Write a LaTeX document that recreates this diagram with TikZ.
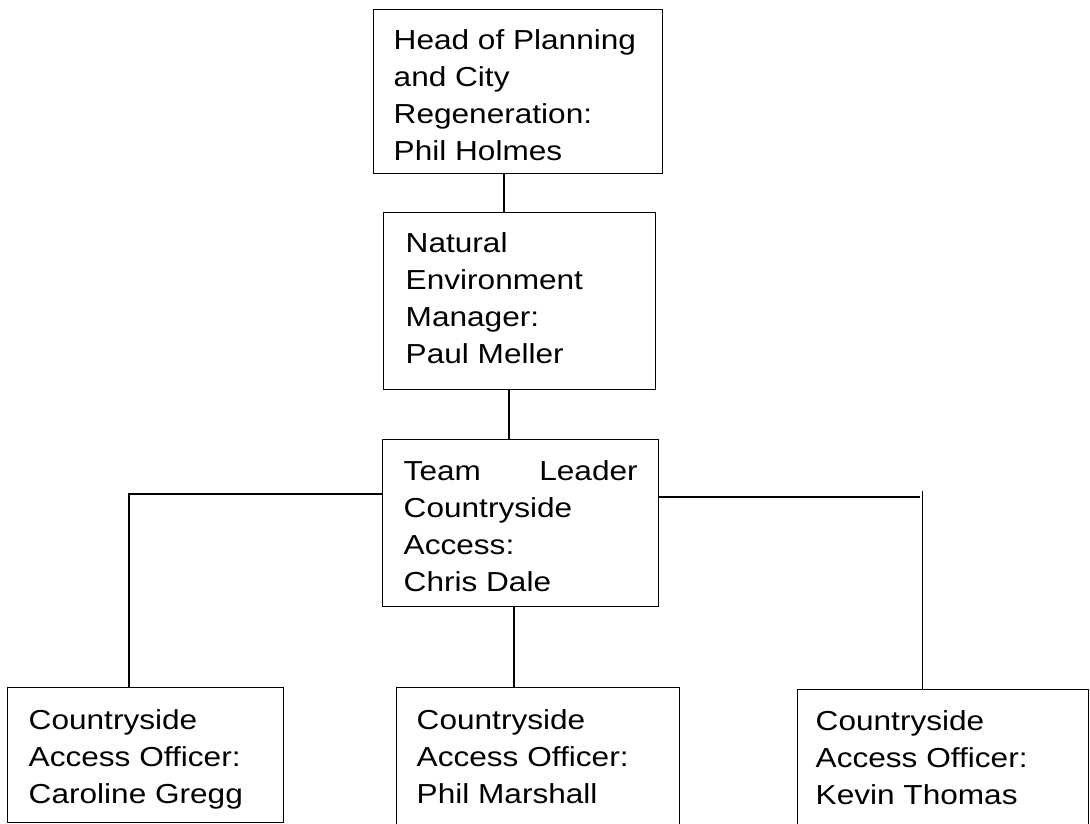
\documentclass[tikz,border=0pt]{standalone}
\usepackage{fontspec}
\newfontfamily\orgfont{Liberation Sans}[FakeStretch=1.15]
\begin{document}
\begin{tikzpicture}[x=0.75pt,y=-0.75pt,
  box/.style={draw=black, line width=1.1pt, inner ysep=0pt, anchor=north west,
    font=\orgfont\fontsize{20.6pt}{27.6pt}\selectfont},
  link/.style={draw=black, line width=1pt}]
\clip (0,0) rectangle (1090,824);
\fill[white] (0,0) rectangle (1090,824);

\node[box, inner xsep=15pt, text height=30pt, text depth=93pt] (b1) at (373,9)
  {\parbox[t]{186.75pt}{\raggedright Head of Planning\\and City\\Regeneration:\\Phil Holmes}};
\node[box, inner xsep=16.5pt, text height=30pt, text depth=102.75pt] (b2) at (383,212)
  {\parbox[t]{171pt}{\raggedright Natural\\Environment\\Manager:\\Paul Meller}};
\node[box, inner xsep=15.75pt, text height=30.75pt, text depth=94.5pt] (b3) at (382,439)
  {\parbox[t]{175.5pt}{Team\hfill Leader\\Countryside\\Access:\\Chris Dale}};
\node[box, inner xsep=15.75pt, text height=31.5pt, text depth=69.75pt] (b4) at (7,687)
  {\parbox[t]{175.5pt}{\raggedright Countryside\\Access Officer:\\Caroline Gregg}};
\node[box, inner xsep=15pt, text height=31.5pt, text depth=90pt] (b5) at (396,687)
  {\parbox[t]{182.25pt}{\raggedright Countryside\\Access Officer:\\Phil Marshall}};
\node[box, inner xsep=13.5pt, text height=30.75pt, text depth=90pt] (b6) at (797,689)
  {\parbox[t]{191.25pt}{\raggedright Countryside\\Access Officer:\\Kevin Thomas}};

\coordinate (k1) at (504,0);
\draw[link] (b1.south -| k1) -- (b2.north -| k1);
\coordinate (k2) at (509,0);
\draw[link] (b2.south -| k2) -- (b3.north -| k2);
\coordinate (k3) at (514,0);
\draw[link] (b3.south -| k3) -- (b5.north -| k3);
\coordinate (kl) at (129,494);
\draw[link] (b3.west |- kl) -- (kl) -- (b4.north -| kl);
\coordinate (kr) at (920,497);
\draw[link] (b3.east |- kr) -- (kr);
\coordinate (kv) at (922.5,491);
\draw[link] (kv) -- (b6.north -| kv);
\end{tikzpicture}
\end{document}
